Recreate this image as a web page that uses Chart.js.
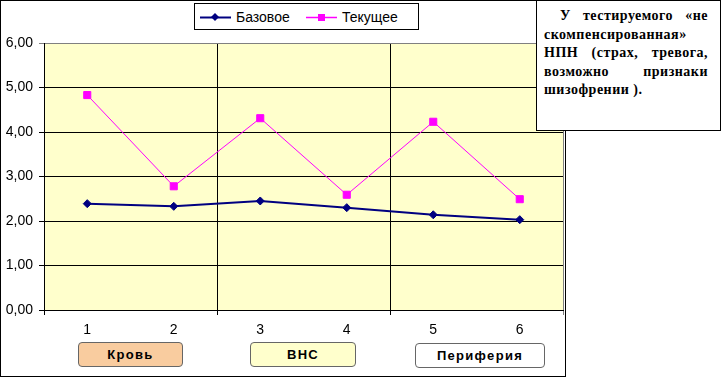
<!DOCTYPE html>
<html>
<head>
<meta charset="utf-8">
<script src="https://cdn.jsdelivr.net/npm/chart.js@4/dist/chart.umd.min.js"></script>
<style>
  body { margin: 0; background: #fff; }
  #wrap { position: relative; width: 721px; height: 377px; overflow: hidden; }
  #frame { position: absolute; left: 0; top: 0; width: 566px; height: 377px; box-sizing: border-box; border: 1px solid #000; }
  #chart { position: absolute; left: 0; top: 0; }
  #legend { position: absolute; left: 194px; top: 3px; width: 225px; height: 27px; box-sizing: border-box; border: 1px solid #000;
            font: 14px "Liberation Sans", Arial, sans-serif; background: #fff; }
  .item { position: absolute; top: 4px; height: 18px; line-height: 18px; }
  .item svg { position: absolute; left: 0; top: 4px; }
  .item span { position: absolute; white-space: nowrap; }
  .btn { position: absolute; height: 25px; box-sizing: border-box; border: 1px solid #666; border-radius: 4px;
         font: bold 13px "Liberation Sans", Arial, sans-serif; letter-spacing: 1.3px; text-align: center; line-height: 23px; }
  #note { position: absolute; left: 536px; top: 0; width: 185px; height: 131px; box-sizing: border-box; border: 1px solid #000;
          background: #fff; padding: 6px 12px 0 7px; font: bold 14px "Liberation Serif", "Times New Roman", serif;
          letter-spacing: 0.5px; line-height: 18.5px; text-align: justify; text-indent: 16px; }
</style>
</head>
<body>
<div id="wrap">
  <div id="frame"></div>
  <canvas id="chart" width="721" height="377"></canvas>
  <div id="legend"></div>
  <div class="btn" style="left:78px; top:342px; width:105px; background:#F9CC9F;">Кровь</div>
  <div class="btn" style="left:250px; top:342px; width:106px; background:#FFFFCC;">ВНС</div>
  <div class="btn" style="left:415px; top:343px; width:130px; background:#fff;">Периферия</div>
  <div id="note">У тестируемого «не скомпенсированная» НПН (страх, тревога, возможно признаки шизофрении ).</div>
</div>
<script>
// categories and series
const categories = ['1', '2', '3', '4', '5', '6'];
const seriesNames = ['Базовое', 'Текущее'];
const baseValues = [2.39, 2.33, 2.45, 2.30, 2.14, 2.03];
const currentValues = [4.83, 2.78, 4.31, 2.59, 4.23, 2.49];
const yTicks = [0, 1, 2, 3, 4, 5, 6];

const navy = '#000080';
const magenta = '#FF00FF';
const grey = '#808080';

// plot area fill
const plotBg = {
    id: 'plotBg',
    beforeDraw(chart) {
        const a = chart.chartArea;
        const c = chart.ctx;
        c.save();
        c.fillStyle = '#FFFFCC';
        c.fillRect(a.left, a.top, a.right - a.left, a.bottom - a.top);
        c.restore();
    }
};

// only every second category boundary gets a line, last one is the grey frame
function xGridColor(c) {
    if (c.index === undefined) return grey;
    if (c.index === 2 || c.index === 4) return '#000';
    return 'rgba(0,0,0,0)';
}
function xTickColor(c) {
    if (c.index === undefined) return grey;
    if (c.index === 0 || c.index === 2 || c.index === 4) return '#000';
    return 'rgba(0,0,0,0)';
}
function yGridColor(c) {
    return (c.tick && c.tick.value === 6) ? grey : '#000';
}

let ctx = document.getElementById('chart').getContext('2d');
let chart = new Chart(ctx, {
    type: 'line',
    data: {
        labels: categories,
        datasets: [{
            label: seriesNames[0],
            data: baseValues,
            borderColor: navy,
            backgroundColor: navy,
            borderWidth: 2,
            pointStyle: 'rectRot',
            pointRadius: 4,
            pointBorderWidth: 1,
            tension: 0
        }, {
            label: seriesNames[1],
            data: currentValues,
            borderColor: magenta,
            backgroundColor: magenta,
            borderWidth: 1,
            pointStyle: 'rect',
            pointRadius: 5,
            pointBorderWidth: 1,
            tension: 0
        }]
    },
    options: {
        responsive: false,
        animation: false,
        layout: { padding: { top: 43, right: 158, left: 0, bottom: 0 } },
        plugins: {
            legend: { display: false },
            tooltip: { enabled: false }
        },
        scales: {
            x: {
                offset: true,
                afterFit: function(s) { s.height = 67; },
                grid: { offset: true, color: xGridColor, tickColor: xTickColor, tickLength: 5, lineWidth: 1 },
                border: { display: true, color: '#000', width: 1 },
                ticks: { color: '#000', padding: 7, font: { family: 'Liberation Sans', size: 14 } }
            },
            y: {
                min: 0,
                max: 6,
                afterFit: function(s) { s.width = 44; },
                afterBuildTicks: function(s) { s.ticks = yTicks.map(v => ({ value: v })); },
                grid: { color: yGridColor, tickColor: yGridColor, tickLength: 5, lineWidth: 1 },
                border: { display: true, color: '#000', width: 1 },
                ticks: {
                    color: '#000',
                    padding: 6,
                    font: { family: 'Liberation Sans', size: 14 },
                    callback: function(value) { return value.toFixed(2).replace('.', ','); }
                }
            }
        }
    },
    plugins: [plotBg]
});

// legend built from the datasets
const legend = document.getElementById('legend');
const legendPos = [{ line: 5, text: 41 }, { line: 111, text: 147 }];
chart.data.datasets.forEach(function(ds, i) {
    const item = document.createElement('div');
    item.className = 'item';
    item.style.left = legendPos[i].line + 'px';
    const mark = i === 0
        ? '<polygon points="15,1 19,5 15,9 11,5" fill="' + ds.borderColor + '"/>'
        : '<rect x="12" y="2" width="7" height="7" fill="' + ds.borderColor + '"/>';
    item.innerHTML = '<svg width="31" height="10"><line x1="0" y1="5.5" x2="31" y2="5.5" stroke="' + ds.borderColor +
        '" stroke-width="' + (i === 0 ? 2 : 1.5) + '"/>' + mark + '</svg><span style="left:' +
        (legendPos[i].text - legendPos[i].line) + 'px">' + ds.label + '</span>';
    legend.appendChild(item);
});
</script>
</body>
</html>
